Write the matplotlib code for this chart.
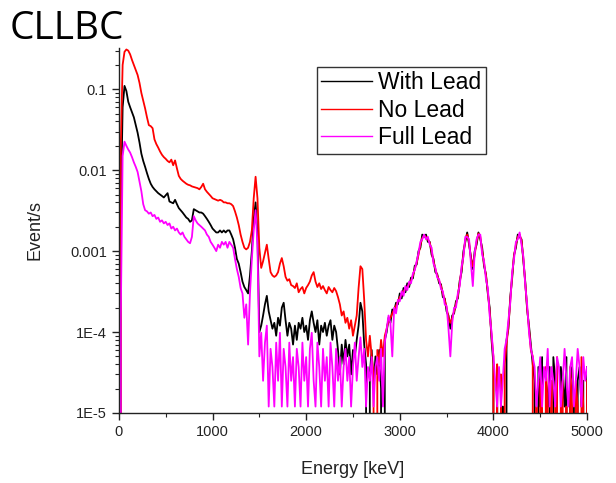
# Espectro CLLBC - comparação com e sem blindagem de chumbo
import numpy as np
import matplotlib
matplotlib.use('Agg')
import matplotlib.pyplot as plt
from matplotlib.ticker import FixedLocator, FixedFormatter, LogLocator, NullFormatter, MultipleLocator

# Energia dos canais (keV), passo de 20 keV
energia = np.arange(0, 5001, 20)

# Com chumbo (preto)
com_chumbo = [
    0, 0.003, 0.06, 0.11, 0.095, 0.07, 0.06, 0.052, 0.045, 0.036,  # 0
    0.029, 0.022, 0.016, 0.013, 0.011, 0.0092, 0.0078, 0.0068, 0.0062, 0.0058,  # 200
    0.0055, 0.0052, 0.005, 0.0048, 0.0046, 0.0049, 0.0052, 0.0041, 0.004, 0.0039,  # 400
    0.0043, 0.0038, 0.0034, 0.0032, 0.003, 0.0028, 0.0026, 0.0025, 0.0023, 0.0024,  # 600
    0.0033, 0.0032, 0.0031, 0.003, 0.003, 0.0029, 0.0027, 0.0025, 0.0023, 0.0021,  # 800
    0.0019, 0.0018, 0.0017, 0.0017, 0.0018, 0.0017, 0.0018, 0.0017, 0.0018, 0.0018,  # 1000
    0.0016, 0.0014, 0.0011, 0.0008, 0.0007, 0.00055, 0.00042, 0.00036, 0.00033, 0.0003,  # 1200
    0.0005, 0.001, 0.0025, 0.004, 0.0016, 0.0001, 0.00012, 0.00016, 0.00022, 0.00028,  # 1400
    0.00018, 0.00014, 0.00011, 0.00013, 0.00009, 0.00015, 0.00012, 0.0002, 0.00023, 0.00014,  # 1600
    0.00009, 0.00013, 0.00011, 0.00007, 0.00012, 0.00008, 0.00013, 0.00011, 0.00015, 0.0001,  # 1800
    0.00012, 0.00008, 0.00014, 0.00018, 0.00013, 0.0001, 0.00014, 0.00007, 0.00012, 0.0001,  # 2000
    0.00013, 0.00009, 0.00012, 0.00014, 0.00008, 0.00012, 0.0001, 0.00006, 0.00003, 0.00007,  # 2200
    0.00004, 0.00008, 0.00005, 0.00007, 0.00003, 0.00006, 0.00005, 0.00008, 0.00012, 0.00023,  # 2400
    0.00018, 0.00007, 0.00004, 0, 0.00003, 0.00006, 0.00002, 0.00005, 0.00003, 0.00006,  # 2600
    0.00002, 0, 0.00008, 0.0001, 0.00015, 0.00013, 0.00019, 0.00018, 0.00023, 0.00022,  # 2800
    0.0003, 0.00026, 0.00035, 0.00031, 0.0004, 0.00036, 0.00047, 0.00046, 0.00066, 0.00068,  # 3000
    0.001, 0.0011, 0.0016, 0.0015, 0.0016, 0.0013, 0.0013, 0.0009, 0.0008, 0.00055,  # 3200
    0.00052, 0.0004, 0.00039, 0.00027, 0.00026, 0.00018, 0.00016, 0.00011, 0.00016, 0.00017,  # 3400
    0.00024, 0.00026, 0.00043, 0.00055, 0.001, 0.0013, 0.0017, 0.0012, 0.00085, 0.0006,  # 3600
    0.001, 0.0012, 0.0017, 0.0014, 0.0011, 0.00065, 0.00052, 0.0003, 0.0002, 0.00008,  # 3800
    0.00004, 0, 1.2e-5, 0, 0, 1.2e-5, 0, 0.00008, 0.00011, 0.00027,  # 4000
    0.00046, 0.0009, 0.0011, 0.0016, 0.0015, 0.0014, 0.00075, 0.00042, 0.00019, 0.00012,  # 4200
    0.00007, 0.00004, 2.5e-5, 0, 3.7e-5, 1.2e-5, 4.9e-5, 0, 2.5e-5, 1.2e-5,  # 4400
    3.7e-5, 0, 4.9e-5, 2.5e-5, 1.2e-5, 0, 3.7e-5, 2.5e-5, 1.2e-5, 4.9e-5,  # 4600
    0, 2.5e-5, 3.7e-5, 1.2e-5, 0, 2.5e-5, 3.7e-5, 1.2e-5, 2.5e-5, 0,  # 4800
    3.7e-5,  # 5000
]

# Sem chumbo (vermelho)
sem_chumbo = [
    0, 0.02, 0.2, 0.29, 0.31, 0.30, 0.27, 0.23, 0.20, 0.175,  # 0
    0.15, 0.12, 0.09, 0.072, 0.058, 0.045, 0.036, 0.035, 0.033, 0.024,  # 200
    0.021, 0.019, 0.017, 0.0155, 0.0145, 0.0138, 0.013, 0.0125, 0.0135, 0.0115,  # 400
    0.0132, 0.0105, 0.0085, 0.0078, 0.0074, 0.0071, 0.0068, 0.0066, 0.0065, 0.0063,  # 600
    0.0062, 0.0061, 0.006, 0.0058, 0.0062, 0.0068, 0.0058, 0.0054, 0.0051, 0.0048,  # 800
    0.0045, 0.0044, 0.0043, 0.0042, 0.0043, 0.0042, 0.004, 0.004, 0.0039, 0.0039,  # 1000
    0.0038, 0.0036, 0.0031, 0.0026, 0.0021, 0.0016, 0.0013, 0.0011, 0.00105, 0.0011,  # 1200
    0.0013, 0.0018, 0.0045, 0.0083, 0.0045, 0.0011, 0.00062, 0.00075, 0.00095, 0.0012,  # 1400
    0.0008, 0.00055, 0.0005, 0.00048, 0.0005, 0.00055, 0.0007, 0.00082, 0.00065, 0.00048,  # 1600
    0.00043, 0.00045, 0.00038, 0.00037, 0.00035, 0.0004, 0.00031, 0.00034, 0.00036, 0.0003,  # 1800
    0.00035, 0.00038, 0.00042, 0.0005, 0.00055, 0.00042, 0.00036, 0.0004, 0.00034, 0.00037,  # 2000
    0.00033, 0.0003, 0.00036, 0.00033, 0.00031, 0.00035, 0.00032, 0.00027, 0.00022, 0.00016,  # 2200
    0.00018, 0.00013, 0.00015, 0.00011, 0.00014, 0.00009, 0.00012, 0.00016, 0.00035, 0.00065,  # 2400
    0.0006, 0.00025, 0.00008, 0.00005, 0.00009, 0.00005, 0.00003, 0, 0.00006, 0.00004,  # 2600
    0.00008, 0.00005, 0.00009, 0.00011, 0.00014, 0.00015, 0.00017, 0.00019, 0.00021, 0.00024,  # 2800
    0.00027, 0.00029, 0.00032, 0.00034, 0.00036, 0.00039, 0.00043, 0.0005, 0.0006, 0.00072,  # 3000
    0.0009, 0.0012, 0.00145, 0.00155, 0.0015, 0.0014, 0.00127, 0.001, 0.00075, 0.0006,  # 3200
    0.0005, 0.00043, 0.00037, 0.0003, 0.00025, 0.0002, 0.00015, 0.00013, 0.00015, 0.00018,  # 3400
    0.00022, 0.00028, 0.0004, 0.0006, 0.0009, 0.0014, 0.0016, 0.0013, 0.0008, 0.00065,  # 3600
    0.0009, 0.0013, 0.00165, 0.0015, 0.001, 0.0007, 0.0005, 0.00032, 0.00018, 0.00009,  # 3800
    0.00005, 0, 0.00004, 0, 0.00003, 0, 0.00004, 0.00007, 0.00012, 0.00025,  # 4000
    0.0005, 0.00087, 0.0012, 0.0015, 0.0016, 0.00135, 0.0008, 0.0004, 0.0002, 0.00011,  # 4200
    0.00006, 0.00005, 0, 1.2e-5, 0, 2.5e-5, 1.2e-5, 0, 3.7e-5, 1.2e-5,  # 4400
    0, 2.5e-5, 0, 1.2e-5, 4.9e-5, 0, 1.2e-5, 2.5e-5, 0, 1.2e-5,  # 4600
    0, 3.7e-5, 1.2e-5, 0, 2.5e-5, 1.2e-5, 0, 4.9e-5, 1.2e-5, 0,  # 4800
    2.5e-5,  # 5000
]

# Chumbo completo (magenta)
chumbo_total = [
    0, 0.00015, 0.015, 0.0225, 0.02, 0.018, 0.0165, 0.0145, 0.0125, 0.011,  # 0
    0.0095, 0.0072, 0.0055, 0.0038, 0.0032, 0.0031, 0.0029, 0.003, 0.0027, 0.0028,  # 200
    0.0025, 0.0026, 0.0023, 0.0024, 0.0022, 0.0023, 0.0021, 0.0022, 0.0019, 0.002,  # 400
    0.0018, 0.0019, 0.0017, 0.0016, 0.0017, 0.0015, 0.0014, 0.0013, 0.00125, 0.0015,  # 600
    0.0027, 0.0024, 0.0022, 0.0021, 0.002, 0.0019, 0.0018, 0.0016, 0.0015, 0.0013,  # 800
    0.0012, 0.0011, 0.001, 0.0012, 0.0011, 0.0013, 0.0012, 0.0013, 0.0011, 0.0013,  # 1000
    0.0012, 0.0011, 0.0008, 0.0006, 0.00048, 0.00035, 0.0003, 0.00015, 0.00022, 0.00007,  # 1200
    0.0003, 0.0008, 0.0018, 0.0032, 0.0012, 0.00005, 9.8e-5, 2.5e-5, 7.4e-5, 1.2e-4,  # 1400
    1.2e-5, 6.2e-5, 3.7e-5, 1.2e-5, 7.4e-5, 2.5e-5, 9.8e-5, 1.2e-5, 6.2e-5, 3.7e-5,  # 1600
    1.2e-5, 7.4e-5, 2.5e-5, 4.9e-5, 1.2e-5, 6.2e-5, 3.7e-5, 1.2e-5, 7.4e-5, 2.5e-5,  # 1800
    4.9e-5, 1.2e-5, 6.2e-5, 9.8e-5, 2.5e-5, 1.2e-5, 7.4e-5, 3.7e-5, 1.2e-5, 6.2e-5,  # 2000
    2.5e-5, 4.9e-5, 1.2e-5, 7.4e-5, 3.7e-5, 1.2e-5, 6.2e-5, 2.5e-5, 4.9e-5, 1.2e-5,  # 2200
    3.7e-5, 6.2e-5, 2.5e-5, 4.9e-5, 1.2e-5, 3.7e-5, 7.4e-5, 2.5e-5, 4.9e-5, 8.6e-5,  # 2400
    3.7e-5, 6.2e-5, 1.2e-5, 3.7e-5, 2.5e-5, 4.9e-5, 1.2e-5, 3.7e-5, 4.9e-5, 2.5e-5,  # 2600
    6.2e-5, 1.2e-5, 7.4e-5, 0.00011, 0.00016, 0.00013, 5e-5, 0.0002, 0.00017, 0.00025,  # 2800
    0.00024, 0.00032, 0.00028, 0.00037, 0.00033, 0.00042, 0.0004, 0.00053, 0.00058, 0.00075,  # 3000
    0.00095, 0.0013, 0.0014, 0.0016, 0.0014, 0.0015, 0.0012, 0.0011, 0.0007, 0.00062,  # 3200
    0.00047, 0.00045, 0.00034, 0.00032, 0.00022, 0.00021, 0.00011, 5e-5, 0.00013, 0.0002,  # 3400
    0.0002, 0.0003, 0.00037, 0.00065, 0.00085, 0.0015, 0.0015, 0.0014, 0.0007, 0.00037,  # 3600
    0.00095, 0.0014, 0.0016, 0.0016, 0.0009, 0.00075, 0.00045, 0.00035, 0.00016, 0.0001,  # 3800
    4.9e-5, 2.5e-5, 1.2e-5, 3.7e-5, 1.2e-5, 2.5e-5, 6.2e-5, 8e-5, 0.00014, 0.00023,  # 4000
    0.00055, 0.0008, 0.0013, 0.0014, 0.0017, 0.0012, 0.00085, 0.00038, 0.00022, 0.0001,  # 4200
    6.2e-5, 4.9e-5, 3.7e-5, 1.2e-5, 2.5e-5, 4.9e-5, 1.2e-5, 3.7e-5, 2.5e-5, 6.2e-5,  # 4400
    1.2e-5, 3.7e-5, 2.5e-5, 1.2e-5, 4.9e-5, 3.7e-5, 1.2e-5, 2.5e-5, 6.2e-5, 2.5e-5,  # 4600
    1.2e-5, 3.7e-5, 4.9e-5, 1.2e-5, 2.5e-5, 6.2e-5, 3.7e-5, 1.2e-5, 4.9e-5, 2.5e-5,  # 4800
    3.7e-5,  # 5000
]

series = ['With Lead', 'No Lead', 'Full Lead']
cores = ['#000000', '#ff0000', '#ff00ff']

# Ticks do eixo y
y_ticks = [1e-5, 1e-4, 1e-3, 1e-2, 1e-1]
y_labels = ['1E-5', '1E-4', '0.001', '0.01', '0.1']

plt.rcParams['font.family'] = ['Liberation Sans', 'DejaVu Sans']

fig = plt.figure(figsize=(6.16, 4.83), dpi=100)
ax = fig.add_axes([0.193, 0.145, 0.760, 0.756])

for dados, nome, cor in zip([com_chumbo, sem_chumbo, chumbo_total], series, cores):
    ax.plot(energia, dados, color=cor, linewidth=1.3, label=nome)

ax.set_yscale('log', nonpositive='clip')
ax.set_ylim(1e-5, 0.325)
ax.set_xlim(0, 5000)

ax.yaxis.set_major_locator(FixedLocator(y_ticks))
ax.yaxis.set_major_formatter(FixedFormatter(y_labels))
ax.yaxis.set_minor_locator(LogLocator(base=10, subs=np.arange(2, 10)))
ax.yaxis.set_minor_formatter(NullFormatter())
ax.xaxis.set_major_locator(MultipleLocator(1000))
ax.xaxis.set_minor_locator(MultipleLocator(500))

ax.spines['top'].set_visible(False)
ax.spines['right'].set_visible(False)
for lado in ['left', 'bottom']:
    ax.spines[lado].set_color('#222222')
    ax.spines[lado].set_linewidth(1.0)

ax.tick_params(which='major', direction='out', length=5, width=1, colors='#222222', labelsize=10.5, labelcolor='#222222')
ax.tick_params(which='minor', direction='out', length=3, width=0.8, colors='#222222')

ax.set_xlabel('Energy [keV]', fontsize=13, color='#222222', labelpad=16)
ax.set_ylabel('Event/s', fontsize=13, color='#222222', labelpad=19)

leg = ax.legend(loc='upper left', bbox_to_anchor=(0.514, 0.862), bbox_transform=fig.transFigure,
                borderaxespad=0, fontsize=16.5, handlelength=2.2, handletextpad=0.3,
                labelspacing=0.2, borderpad=0.2, fancybox=False, framealpha=1)
leg.get_frame().set_edgecolor('#333333')
leg.get_frame().set_linewidth(1.0)
for linha in leg.get_lines():
    linha.set_linewidth(1.0)

fig.text(0.016, 1 - 39 / 483, 'CLLBC', fontsize=28, family='Open Sans', va='baseline', ha='left')

fig.savefig('out.png', dpi=100)
